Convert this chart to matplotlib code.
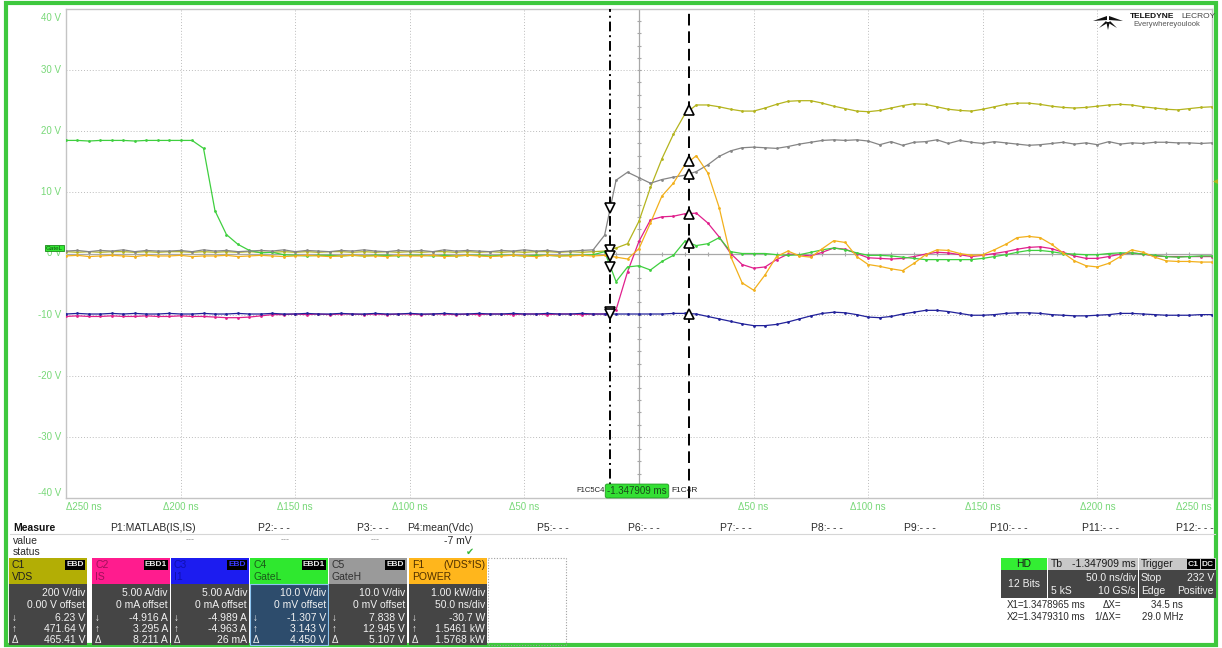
import numpy as np
import matplotlib
matplotlib.use("Agg")
import matplotlib.pyplot as plt
from matplotlib.patches import Rectangle, Polygon

plt.rcParams['font.family'] = ['Liberation Sans', 'DejaVu Sans']

W, H = 1222, 648

# display time base in ns (one drawn point every 5 ns)
t_ns = np.arange(-250, 251, 5)

# traces in screen volts (10 V/div grid), rows of 10 points = 50 ns
vds = [0.3, 0.2, 0.3, 0.2, 0.3, 0.3, 0.2, 0.3, 0.2, 0.3,
       0.3, 0.2, 0.3, 0.2, 0.3, 0.2, 0.3, 0.2, 0.2, 0.3,
       0.2, 0.3, 0.2, 0.3, 0.3, 0.2, 0.3, 0.2, 0.3, 0.2,
       0.3, 0.2, 0.3, 0.3, 0.2, 0.3, 0.2, 0.3, 0.2, 0.3,
       0.2, 0.3, 0.3, 0.2, 0.3, 0.2, 0.3, 0.4, 0.9, 1.6,
       5.3, 10.8, 15.5, 19.5, 22.8, 24.3, 24.3, 24.0, 23.6, 23.3,
       23.3, 23.8, 24.4, 24.9, 25.0, 25.0, 24.6, 24.1, 23.7, 23.3,
       23.2, 23.4, 23.8, 24.2, 24.5, 24.4, 24.0, 23.6, 23.4, 23.3,
       23.6, 24.0, 24.4, 24.6, 24.6, 24.4, 24.1, 23.9, 23.8, 23.9,
       24.1, 24.3, 24.4, 24.3, 24.0, 23.8, 23.6, 23.5, 23.7, 23.9,
       24.0]

i_s = [-10.3, -10.2, -10.3, -10.3, -10.2, -10.3, -10.3, -10.2, -10.3, -10.3,
       -10.2, -10.3, -10.3, -10.4, -10.5, -10.5, -10.4, -10.2, -10.0, -10.0,
       -9.9, -10.0, -9.9, -10.0, -9.9, -9.9, -10.0, -9.9, -10.0, -9.9,
       -9.9, -10.0, -9.9, -9.9, -10.0, -9.9, -10.0, -9.9, -9.9, -10.0,
       -9.9, -9.9, -10.0, -9.9, -9.9, -10.0, -9.9, -9.9, -9.2, -3.0,
       2.0, 5.5, 6.0, 6.1, 6.5, 6.6, 5.0, 2.7, 0.0, -1.8,
       -2.4, -2.2, -1.0, -0.1, -0.2, -0.4, 0.2, 0.9, 0.7, 0.0,
       -0.7, -0.8, -0.9, -0.8, -0.5, -0.1, 0.2, 0.1, -0.2, -0.5,
       -0.3, 0.0, 0.3, 0.7, 1.0, 1.1, 0.8, 0.2, -0.4, -0.8,
       -0.8, -0.5, -0.1, 0.1, -0.1, -0.4, -0.5, -0.5, -0.5, -0.5,
       -0.5]

c3 = [-9.9, -9.8, -9.9, -9.9, -9.8, -9.9, -9.8, -9.9, -9.9, -9.8,
      -9.9, -9.9, -9.8, -9.9, -9.9, -9.8, -9.9, -9.9, -9.8, -9.9,
      -9.9, -9.8, -9.9, -9.9, -9.8, -9.9, -9.9, -9.8, -9.9, -9.9,
      -9.8, -9.9, -9.9, -9.8, -9.9, -9.9, -9.8, -9.9, -9.9, -9.8,
      -9.9, -9.9, -9.8, -9.9, -9.9, -9.8, -9.9, -9.9, -9.9, -9.9,
      -9.9, -9.9, -9.9, -9.8, -9.8, -9.9, -10.3, -10.7, -11.1, -11.5,
      -11.8, -11.8, -11.6, -11.2, -10.7, -10.2, -9.8, -9.6, -9.7, -10.0,
      -10.4, -10.5, -10.3, -9.9, -9.6, -9.3, -9.3, -9.5, -9.8, -10.1,
      -10.1, -10.0, -9.8, -9.7, -9.7, -9.8, -10.0, -10.1, -10.2, -10.2,
      -10.1, -10.0, -9.8, -9.8, -9.9, -10.0, -10.1, -10.1, -10.1, -10.0,
      -10.0]

gate_l = [18.5, 18.5, 18.4, 18.5, 18.5, 18.5, 18.4, 18.5, 18.5, 18.5,
          18.5, 18.5, 17.2, 7.0, 3.1, 1.5, 0.5, 0.1, 0.2, -0.2,
          -0.3, -0.4, -0.3, -0.3, -0.4, -0.3, -0.4, -0.3, -0.3, -0.4,
          -0.3, -0.3, -0.4, -0.3, -0.4, -0.3, -0.3, -0.4, -0.3, -0.3,
          -0.4, -0.3, -0.3, -0.4, -0.3, -0.3, -0.2, 0.3, -4.6, -2.2,
          -2.0, -2.7, -1.3, -0.3, 2.0, 1.3, 1.6, 2.6, 0.3, 0.0,
          0.0, 0.0, -0.2, -0.3, -0.2, 0.2, 0.6, 0.9, 0.6, 0.1,
          -0.3, -0.3, -0.4, -0.6, -0.8, -1.0, -1.0, -1.0, -1.0, -1.0,
          -0.8, -0.5, -0.2, 0.2, 0.5, 0.5, 0.3, 0.0, -0.1, -0.2,
          -0.2, 0.0, 0.1, 0.1, -0.1, -0.3, -0.5, -0.6, -0.5, -0.4,
          -0.4]

gate_h = [0.4, 0.5, 0.3, 0.5, 0.4, 0.6, 0.3, 0.5, 0.4, 0.4,
          0.5, 0.3, 0.6, 0.4, 0.5, 0.3, 0.4, 0.5, 0.4, 0.6,
          0.3, 0.5, 0.4, 0.3, 0.5, 0.4, 0.6, 0.4, 0.3, 0.5,
          0.4, 0.5, 0.3, 0.6, 0.4, 0.5, 0.4, 0.3, 0.5, 0.4,
          0.6, 0.4, 0.5, 0.3, 0.4, 0.5, 0.6, 3.0, 12.0, 13.3,
          12.4, 11.5, 12.1, 12.5, 12.8, 13.4, 14.5, 15.9, 16.8, 17.3,
          17.4, 17.3, 17.2, 17.5, 17.9, 18.2, 18.5, 18.6, 18.5, 18.6,
          18.4, 17.8, 18.3, 17.7, 18.2, 18.3, 18.6, 18.0, 18.5, 18.2,
          18.0, 18.3, 18.1, 17.9, 17.7, 17.8, 18.0, 18.2, 17.9, 18.1,
          17.8, 18.3, 17.9, 18.1, 18.0, 18.2, 18.2, 18.1, 18.1, 18.0,
          18.1]

power = [-0.4, -0.3, -0.5, -0.4, -0.3, -0.4, -0.5, -0.3, -0.4, -0.4,
         -0.3, -0.5, -0.4, -0.4, -0.3, -0.5, -0.4, -0.3, -0.4, -0.5,
         -0.4, -0.3, -0.4, -0.5, -0.4, -0.3, -0.4, -0.4, -0.5, -0.3,
         -0.4, -0.4, -0.3, -0.5, -0.4, -0.3, -0.4, -0.5, -0.4, -0.3,
         -0.4, -0.5, -0.3, -0.4, -0.4, -0.3, -0.4, -0.3, -0.6, -0.9,
         0.8, 5.0, 9.4, 11.5, 14.5, 16.0, 13.2, 7.5, -0.5, -4.8,
         -6.0, -3.5, -0.5, 0.4, -0.4, -0.6, 0.8, 2.1, 1.8, -0.5,
         -1.8, -2.1, -2.5, -2.8, -1.6, -0.2, 0.6, 0.5, 0.0, -0.3,
         -0.2, 0.6, 1.5, 2.6, 2.8, 2.6, 1.5, 0.1, -1.2, -2.0,
         -2.2, -1.6, -0.5, 0.6, 0.2, -0.6, -1.2, -1.3, -1.3, -1.4,
         -1.4]

# cursors (ns from trigger)
x1_ns = -12.5
x2_ns = 22.0

traces = [(vds, '#b4b41e'), (i_s, '#e0208c'), (c3, '#22229a'),
          (gate_l, '#3fcf3f'), (gate_h, '#858585'), (power, '#f2b01c')]

# channel descriptor boxes
ch_names = ['C1', 'C2', 'C3', 'C4', 'C5', 'F1']
ch_labels = ['VDS', 'IS', 'I1', 'GateL', 'GateH', 'POWER']
ch_head = ['#b3ae05', '#ff1c8e', '#1c1cf0', '#2fe82f', '#9a9a9a', '#ffb61c']
ch_text = ['#202020', '#a0105a', '#1010b0', '#1a5a1a', '#303030', '#503000']
ch_scale = ['200 V/div', '5.00 A/div', '5.00 A/div', '10.0 V/div', '10.0 V/div', '1.00 kW/div']
ch_offset = ['0.00 V offset', '0 mA offset', '0 mA offset', '0 mV offset', '0 mV offset', '50.0 ns/div']
ch_down = ['6.23 V', '-4.916 A', '-4.989 A', '-1.307 V', '7.838 V', '-30.7 W']
ch_up = ['471.64 V', '3.295 A', '-4.963 A', '3.143 V', '12.945 V', '1.5461 kW']
ch_delta = ['465.41 V', '8.211 A', '26 mA', '4.450 V', '5.107 V', '1.5768 kW']
ch_badge = ['EBD', 'EBD1', 'EBD', 'EBD1', 'EBD', '(VDS*IS)']

meas_heads = ['P1:MATLAB(IS,IS)', 'P2:- - -', 'P3:- - -', 'P4:mean(Vdc)', 'P5:- - -', 'P6:- - -',
              'P7:- - -', 'P8:- - -', 'P9:- - -', 'P10:- - -', 'P11:- - -', 'P12:- - -']
meas_x = [110, 258, 357, 407, 537, 628, 720, 811, 904, 990, 1082, 1176]

fig = plt.figure(figsize=(W / 100, H / 100), dpi=100)
fig.patch.set_facecolor('white')
ax = fig.add_axes([66 / W, 1 - 498 / H, (1212 - 66) / W, (498 - 9) / H])
ax.set_xlim(-250, 250)
ax.set_ylim(-40, 40)
ax.set_xticks([])
ax.set_yticks([])
for s in ax.spines.values():
    s.set_color('#c4c4c4')
    s.set_linewidth(1.0)

# graticule
for gx in range(-200, 201, 50):
    if gx == 0:
        ax.axvline(0, color='#a8a8a8', lw=0.9, zorder=1)
    else:
        ax.axvline(gx, color='#bcbcbc', lw=0.7, ls=(0, (1, 2)), zorder=1)
for gy in range(-30, 31, 10):
    if gy == 0:
        ax.axhline(0, color='#a8a8a8', lw=0.9, zorder=1)
    else:
        ax.axhline(gy, color='#bcbcbc', lw=0.7, ls=(0, (1, 2)), zorder=1)
ax.plot(np.arange(-240, 241, 10), np.zeros(49), ls='none', marker='|', ms=3,
        color='#a8a8a8', mew=0.8, zorder=1)
ax.plot(np.zeros(39), np.arange(-38, 39, 2), ls='none', marker='_', ms=3,
        color='#a8a8a8', mew=0.8, zorder=1)

for vals, col in traces:
    ax.plot(t_ns, vals, color=col, lw=0.9, marker='o', ms=2.0, mew=0, zorder=3)

ax.axvline(x1_ns, color='black', lw=1.4, ls=(0, (5, 2, 1, 2)), zorder=4)
ax.axvline(x2_ns, color='black', lw=1.4, ls=(0, (6, 3)), zorder=4)
for vals, col in traces:
    ax.plot(x1_ns, np.interp(x1_ns, t_ns, vals), marker='v', ms=6.5, mfc='white',
            mec='black', mew=1.2, zorder=5)
    ax.plot(x2_ns, np.interp(x2_ns, t_ns, vals), marker='^', ms=6.5, mfc='white',
            mec='black', mew=1.2, zorder=5)

# axis labels
lab_col = '#78d878'
xform = ax.get_xaxis_transform()
for gx in range(-250, 251, 50):
    if gx == 0:
        continue
    ha = 'left' if gx == -250 else ('right' if gx == 250 else 'center')
    ax.text(gx, -0.008, '\u0394%d ns' % abs(gx), transform=xform, ha=ha, va='top',
            fontsize=7, color=lab_col)
yform = ax.get_yaxis_transform()
for gy in range(-40, 41, 10):
    va = 'top' if gy == 40 else ('bottom' if gy == -40 else 'center')
    ypos = gy - 0.6 if gy == 40 else gy
    ax.text(-0.004, ypos, '%d V' % gy, transform=yform, ha='right', va=va,
            fontsize=7, color=lab_col)

# overlay in pixel coordinates for the instrument panel
ov = fig.add_axes([0, 0, 1, 1])
ov.set_xlim(0, W)
ov.set_ylim(H, 0)
ov.axis('off')
ov.patch.set_alpha(0)

ov.add_patch(Rectangle((6, 3), W - 12, H - 6, fill=False, ec='#3ec83e', lw=3.0))

# GateL ground marker and trigger level marker
ov.text(54, 248, 'GateL', fontsize=4.5, ha='center', va='center', color='#145014',
        bbox=dict(boxstyle='square,pad=0.15', fc='#33e833', ec='#1a8a1a', lw=0.6))
ov.plot(1215, 181, marker='<', ms=3.5, color='#b4b41e', mew=0)

# trigger time label at the bottom of the grid
ov.text(637, 491, '-1.347909 ms', fontsize=7, ha='center', va='center', color='#1a4a1a',
        bbox=dict(boxstyle='round,pad=0.2', fc='#33e033', ec='#1f9a1f', lw=0.6))
ov.text(605, 491, 'F1C5C4', fontsize=5.5, ha='right', va='center', color='#202020')
ov.text(671, 491, 'F1C4R', fontsize=6, ha='left', va='center', color='#202020')

# logo
logo = [[(1093, 21), (1107, 16), (1107, 20)], [(1123, 21), (1109, 16), (1109, 20)],
        [(1099, 28), (1106, 21), (1107.5, 23)], [(1108, 30), (1106.3, 22), (1109.7, 22)],
        [(1117, 28), (1110, 21), (1108.5, 23)]]
for tri in logo:
    ov.add_patch(Polygon(tri, closed=True, fc='#111111', ec='none'))
ov.text(1130, 17, 'TELEDYNE', fontsize=6, weight='bold', ha='left', va='center', color='#111111')
ov.text(1215, 17, 'LECROY', fontsize=6, ha='right', va='center', color='#444444')
ov.text(1133, 25, 'Everywhereyoulook', fontsize=5.5, ha='left', va='center', color='#555555')

# measurement table
txt = '#2a2a2a'
ov.text(13, 528, 'Measure', fontsize=7.5, weight='bold', va='center', color='#111111')
for lab, mx in zip(meas_heads, meas_x):
    ov.text(mx, 528, lab, fontsize=7.5, va='center', color=txt)
ov.plot([10, 1215], [534, 534], color='#d6d6d6', lw=0.8)
ov.text(13, 541, 'value', fontsize=7.5, va='center', color=txt)
ov.text(13, 552, 'status', fontsize=7.5, va='center', color=txt)
for vx in [195, 290, 380]:
    ov.text(vx, 540, '---', fontsize=6.5, ha='right', va='center', color='#9a9a9a')
ov.text(472, 541, '-7 mV', fontsize=7.5, ha='right', va='center', color=txt)
ov.text(470, 552, '\u2714', fontsize=7, ha='center', va='center', color='#3cb83c')

# channel descriptor boxes
box_x = [9, 92, 171, 250, 329, 409]
for k in range(6):
    bx = box_x[k]
    ov.add_patch(Rectangle((bx, 558), 78, 26, fc=ch_head[k], ec='none'))
    body_fc = '#2d4c6c' if ch_names[k] == 'C4' else '#454545'
    body_ec = '#8cc4f0' if ch_names[k] == 'C4' else 'none'
    ov.add_patch(Rectangle((bx, 584), 78, 61, fc=body_fc, ec=body_ec, lw=0.8))
    hcol = ch_text[k]
    ov.text(bx + 3, 565, ch_names[k], fontsize=7.5, va='center', color=hcol)
    ov.text(bx + 3, 577, ch_labels[k], fontsize=7.5, va='center', color=hcol)
    if ch_names[k] == 'F1':
        ov.text(bx + 76, 565, ch_badge[k], fontsize=7.5, ha='right', va='center', color=hcol)
    else:
        bcol = '#3a3aff' if ch_names[k] == 'C3' else '#e8e8e8'
        ov.text(bx + 75, 565, ch_badge[k], fontsize=6, ha='right', va='center', color=bcol,
                weight='bold', bbox=dict(boxstyle='square,pad=0.15', fc='black', ec='none'))
    ov.text(bx + 76, 593, ch_scale[k], fontsize=7.5, ha='right', va='center', color='#f2f2f2')
    ov.text(bx + 76, 605, ch_offset[k], fontsize=7.5, ha='right', va='center', color='#f2f2f2')
    for row_y, sym, val in [(618, '\u2193', ch_down[k]), (629, '\u2191', ch_up[k]),
                            (640, '\u0394', ch_delta[k])]:
        ov.text(bx + 3, row_y, sym, fontsize=7, va='center', color='#f2f2f2')
        ov.text(bx + 76, row_y, val, fontsize=7.5, ha='right', va='center', color='#f2f2f2')
ov.add_patch(Rectangle((488, 558), 78, 87, fill=False, ec='#a0a0a0', lw=0.8, ls=(0, (1, 1.5))))

# timebase / trigger panel
ov.add_patch(Rectangle((1001, 558), 46, 12, fc='#33ee33', ec='none'))
ov.add_patch(Rectangle((1001, 570), 46, 28, fc='#454545', ec='none'))
ov.text(1024, 564, 'HD', fontsize=7.5, ha='center', va='center', color='#1a1a1a')
ov.text(1024, 584, '12 Bits', fontsize=7.5, ha='center', va='center', color='#f2f2f2')
ov.add_patch(Rectangle((1048, 558), 90, 12, fc='#c8c8c8', ec='none'))
ov.add_patch(Rectangle((1048, 570), 90, 28, fc='#454545', ec='none'))
ov.text(1051, 564, 'Tb', fontsize=7.5, va='center', color='#1a1a1a')
ov.text(1136, 564, '-1.347909 ms', fontsize=7.5, ha='right', va='center', color='#1a1a1a')
ov.text(1136, 578, '50.0 ns/div', fontsize=7.5, ha='right', va='center', color='#f2f2f2')
ov.text(1051, 591, '5 kS', fontsize=7.5, va='center', color='#f2f2f2')
ov.text(1136, 591, '10 GS/s', fontsize=7.5, ha='right', va='center', color='#f2f2f2')
ov.add_patch(Rectangle((1139, 558), 77, 12, fc='#c8c8c8', ec='none'))
ov.add_patch(Rectangle((1139, 570), 77, 28, fc='#454545', ec='none'))
ov.text(1141, 564, 'Trigger', fontsize=7.5, va='center', color='#1a1a1a')
ov.text(1199, 564, 'C1', fontsize=6, ha='right', va='center', color='#e8e8e8', weight='bold',
        bbox=dict(boxstyle='square,pad=0.15', fc='black', ec='none'))
ov.text(1214, 564, 'DC', fontsize=6, ha='right', va='center', color='#e8e8e8', weight='bold',
        bbox=dict(boxstyle='square,pad=0.15', fc='black', ec='none'))
ov.text(1141, 578, 'Stop', fontsize=7.5, va='center', color='#f2f2f2')
ov.text(1214, 578, '232 V', fontsize=7.5, ha='right', va='center', color='#f2f2f2')
ov.text(1141, 591, 'Edge', fontsize=7.5, va='center', color='#f2f2f2')
ov.text(1214, 591, 'Positive', fontsize=7.5, ha='right', va='center', color='#f2f2f2')

ov.text(1007, 605, 'X1=', fontsize=7, va='center', color=txt)
ov.text(1023, 605, '1.3478965 ms', fontsize=7, va='center', color=txt)
ov.text(1121, 605, '\u0394X=', fontsize=7, ha='right', va='center', color=txt)
ov.text(1183, 605, '34.5 ns', fontsize=7, ha='right', va='center', color=txt)
ov.text(1007, 617, 'X2=', fontsize=7, va='center', color=txt)
ov.text(1023, 617, '1.3479310 ms', fontsize=7, va='center', color=txt)
ov.text(1121, 617, '1/\u0394X=', fontsize=7, ha='right', va='center', color=txt)
ov.text(1183, 617, '29.0 MHz', fontsize=7, ha='right', va='center', color=txt)

fig.savefig('out.png', dpi=100)
